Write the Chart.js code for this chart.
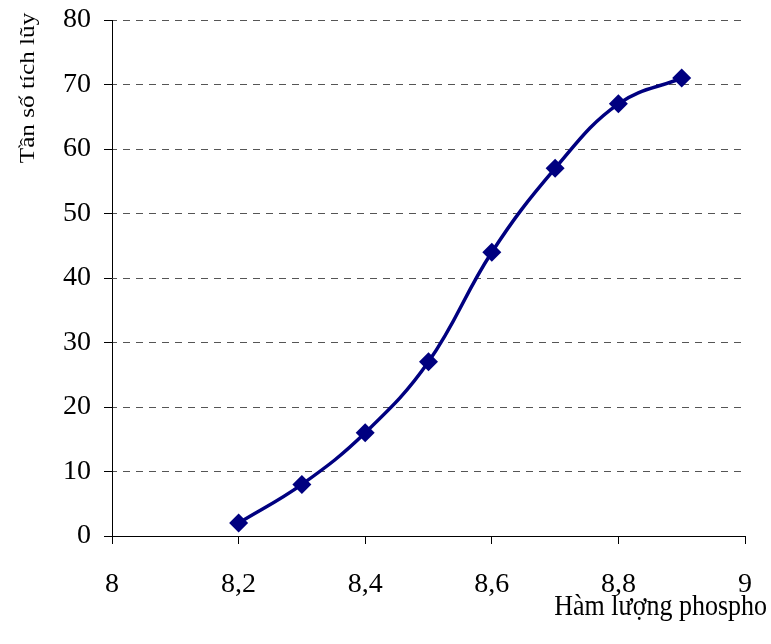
<!DOCTYPE html>
<html>
<head>
<meta charset="utf-8">
<script src="https://cdn.jsdelivr.net/npm/chart.js@4/dist/chart.umd.min.js"></script>
<style>
  html, body { margin: 0; padding: 0; background: #ffffff; }
  #wrap { width: 771px; height: 644px; position: relative; }
</style>
</head>
<body>
<div id="wrap"><canvas id="chart"></canvas></div>
<script>
// ===== DATA =====
const phosphoLevels = [8.2, 8.3, 8.4, 8.5, 8.6, 8.7, 8.8, 8.9];
const cumulativeFreq = [2, 8, 16, 27, 44, 57, 67, 71];
const xTitle = 'Hàm lượng phospho';
const yTitle = 'Tần số tích lũy';

const SERIF = '"Liberation Serif", "Times New Roman", serif';

// format ticks with comma decimals (8,2 ...)
function fmt_tick(v) {
    const r = Math.round(v * 10) / 10;
    return Number.isInteger(r) ? String(r) : r.toFixed(1).replace('.', ',');
}

// axis titles drawn by hand: positions in the original are off the usual spots
const titlePlugin = {
    id: 'axisTitles',
    afterDraw(chart) {
        const ctx = chart.ctx;
        ctx.save();
        ctx.fillStyle = '#000000';
        // y title, rotated, near the top
        ctx.font = '21px ' + SERIF;
        ctx.translate(34, 88);
        ctx.rotate(-Math.PI / 2);
        ctx.scale(1.2, 1);
        ctx.textAlign = 'center';
        ctx.textBaseline = 'alphabetic';
        ctx.fillText(yTitle, 0, 0);
        ctx.restore();

        ctx.save();
        ctx.fillStyle = '#000000';
        ctx.font = '26px ' + SERIF;
        ctx.textAlign = 'right';
        ctx.textBaseline = 'alphabetic';
        ctx.translate(767, 615);
        ctx.scale(1, 1.12);
        ctx.fillText(xTitle, 0, 0);
        ctx.restore();
    }
};

const ctx = document.getElementById('chart').getContext('2d');
new Chart(ctx, {
    type: 'line',
    data: {
        datasets: [{
            data: phosphoLevels.map((x, i) => ({ x: x, y: cumulativeFreq[i] })),
            borderColor: '#000080',
            backgroundColor: '#000080',
            borderWidth: 3.5,
            tension: 0.4,
            pointStyle: 'rectRot',
            pointRadius: 9.5,
            pointBorderWidth: 0,
            pointHoverRadius: 9.5,
            fill: false
        }]
    },
    options: {
        responsive: true,
        maintainAspectRatio: false,
        animation: false,
        events: [],
        layout: { padding: { left: 0, top: 20, right: 26, bottom: 0 } },
        plugins: {
            legend: { display: false },
            tooltip: { enabled: false }
        },
        scales: {
            x: {
                type: 'linear',
                min: 8,
                max: 9,
                afterFit: (scale) => {
                    scale.height = 108;
                    scale.paddingLeft = 0;
                    scale.paddingRight = 0;
                },
                ticks: {
                    stepSize: 0.2,
                    color: '#000000',
                    font: { family: SERIF, size: 28 },
                    padding: 24,
                    maxRotation: 0,
                    callback: (v) => fmt_tick(v)
                },
                grid: {
                    drawOnChartArea: false,
                    drawTicks: true,
                    tickLength: 8,
                    tickColor: '#000000'
                },
                border: { color: '#000000', width: 1 }
            },
            y: {
                min: 0,
                max: 80,
                afterFit: (scale) => {
                    scale.width = 112;
                    scale.paddingTop = 0;
                    scale.paddingBottom = 0;
                },
                ticks: {
                    stepSize: 10,
                    color: '#000000',
                    font: { family: SERIF, size: 28 },
                    padding: 13
                },
                grid: {
                    color: '#555555',
                    lineWidth: 1,
                    drawTicks: true,
                    tickLength: 8,
                    tickColor: '#000000',
                    tickBorderDash: []
                },
                border: { color: '#000000', width: 1, dash: [7, 6], dashOffset: 3 }
            }
        }
    },
    plugins: [titlePlugin]
});
</script>
</body>
</html>
